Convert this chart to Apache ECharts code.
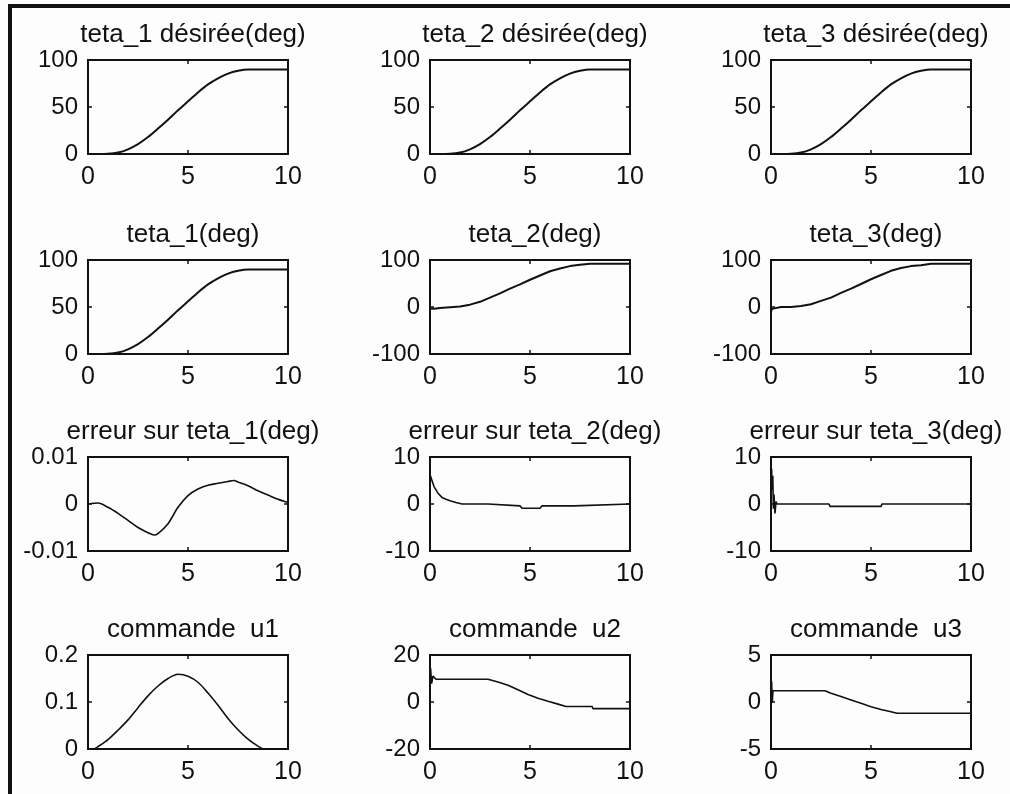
<!DOCTYPE html>
<html>
<head>
<meta charset="utf-8">
<script src="https://cdn.jsdelivr.net/npm/echarts@6/dist/echarts.min.js"></script>
<style>
html,body{margin:0;padding:0;background:#fff;}
#c{width:1010px;height:794px;}
</style>
</head>
<body>
<div id="c"></div>
<script>
// ---- data ----
const X_TICKS = [0, 5, 10];

const T_DES = [0,0.5,1,1.5,2,2.5,3,3.5,4,4.5,5,5.5,6,6.5,7,7.5,8,8.5,9,9.5,10];
const TETA1_DES = [0,0,0.2,1.5,5,10.5,18,27,36.5,46.5,56,65.5,74,80.5,85.5,88.5,90,90,90,90,90];
const TETA2_DES = [0,0,0.2,1.5,5,10.5,18,27,36.5,46.5,56,65.5,74,80.5,85.5,88.5,90,90,90,90,90];
const TETA3_DES = [0,0,0.2,1.5,5,10.5,18,27,36.5,46.5,56,65.5,74,80.5,85.5,88.5,90,90,90,90,90];

const T_TETA1 = [0,0.5,1,1.5,2,2.5,3,3.5,4,4.5,5,5.5,6,6.5,7,7.5,8,8.5,9,9.5,10];
const TETA1 = [0,0,0.2,1.5,5,10.5,18,27,36.5,46.5,56,65.5,74,80.5,85.5,88.5,90,90,90,90,90];

const T_TETA2 = [0,0.05,0.2,0.5,1,1.5,2,2.5,3,3.5,4,4.5,5,5.5,6,6.5,7,7.5,8,8.5,9,9.5,10];
const TETA2 = [-3,-6,-3.5,-2,-0.5,1,5,11,20,29,39,48,58,67,76,82,87,90,92,92,92,92,92];

const T_TETA3 = [0,0.05,0.15,0.5,1,1.5,2,2.5,3,3.5,4,4.5,5,5.5,6,6.5,7,7.5,8,8.5,9,9.5,10];
const TETA3 = [-10,-4,0,0,0,2,6,13,20,30,39,49,59,68,77,83,87,89,92,92,92,92,92];

const T_ERR1 = [0,0.5,1,1.5,2,2.5,3,3.3,3.5,4,4.5,5,5.5,6,6.5,7,7.3,7.5,8,8.5,9,9.5,10];
const ERR1 = [0,0.0002,-0.0007,-0.002,-0.0035,-0.005,-0.0061,-0.0066,-0.0063,-0.0042,-0.0007,0.0018,0.0032,0.004,0.0044,0.0048,0.005,0.0047,0.0039,0.0028,0.0019,0.001,0.0003];

const T_ERR2 = [0,0.02,0.1,0.2,0.4,0.6,0.8,1,1.3,1.6,2.9,2.95,4.5,4.6,5.5,5.6,7.2,7.25,10];
const ERR2 = [2,6,5,3.7,2.3,1.4,1,0.7,0.3,0,0,-0.4,-0.4,-0.9,-0.9,-0.4,-0.4,0,0];

const T_ERR3 = [0,0.03,0.06,0.09,0.12,0.15,0.2,0.25,0.3,2.9,2.95,5.5,5.55,10];
const ERR3 = [0,7.5,3,6,-1,2,-2,0.5,0,0,-0.5,-0.5,0,0];

const T_U1 = [0,0.3,0.5,1,1.5,2,2.5,3,3.5,4,4.5,5,5.5,6,6.5,7,7.5,8,8.5,8.8,9,10];
const U1 = [0,0,0.005,0.02,0.04,0.062,0.088,0.113,0.134,0.15,0.159,0.155,0.142,0.119,0.093,0.065,0.041,0.021,0.006,0,0,0];

const T_U2 = [0,0.03,0.08,0.15,0.3,2.9,3.4,3.9,4.4,4.9,5.4,5.9,6.4,6.8,8.1,8.15,10];
const U2 = [8,14.3,7.8,11,9.7,9.7,8.5,7.1,5.2,3.2,1.6,0.3,-0.9,-1.9,-1.9,-2.8,-2.8];

const T_U3 = [0,0.03,0.06,0.1,2.7,3,3.5,4,4.5,5,5.5,6,6.3,10];
const U3 = [0,2.2,-0.1,1.2,1.2,0.93,0.58,0.22,-0.14,-0.5,-0.8,-1.04,-1.2,-1.2];

const TITLES = [
  'teta_1 désirée(deg)','teta_2 désirée(deg)','teta_3 désirée(deg)',
  'teta_1(deg)','teta_2(deg)','teta_3(deg)',
  'erreur sur teta_1(deg)','erreur sur teta_2(deg)','erreur sur teta_3(deg)',
  'commande  u1','commande  u2','commande  u3'
];
const Y_TICKS = [
  [0,50,100],[0,50,100],[0,50,100],
  [0,50,100],[-100,0,100],[-100,0,100],
  [-0.01,0,0.01],[-10,0,10],[-10,0,10],
  [0,0.1,0.2],[-20,0,20],[-5,0,5]
];
const Y_LABELS = [
  ['0','50','100'],['0','50','100'],['0','50','100'],
  ['0','50','100'],['-100','0','100'],['-100','0','100'],
  ['-0.01','0','0.01'],['-10','0','10'],['-10','0','10'],
  ['0','0.1','0.2'],['-20','0','20'],['-5','0','5']
];
const SERIES = [
  [T_DES,TETA1_DES],[T_DES,TETA2_DES],[T_DES,TETA3_DES],
  [T_TETA1,TETA1],[T_TETA2,TETA2],[T_TETA3,TETA3],
  [T_ERR1,ERR1],[T_ERR2,ERR2],[T_ERR3,ERR3],
  [T_U1,U1],[T_U2,U2],[T_U3,U3]
];
const SMOOTH = [true,true,true,true,false,false,true,false,false,true,false,false];

// ---- layout ----
const COL_LEFT = [88, 430, 771];
const ROW_TOP = [60, 260, 457, 655];
const W = 200, H = 94;
const FONT = "'Liberation Sans', Arial, sans-serif";

const grids = [], xAxes = [], yAxes = [], series = [], titles = [];
for (let i = 0; i < 12; i++) {
  const r = Math.floor(i / 3), c = i % 3;
  grids.push({left: COL_LEFT[c], top: ROW_TOP[r], width: W, height: H,
    show: true, borderColor: '#111', borderWidth: 2, backgroundColor: 'transparent'});
  const yt = Y_TICKS[i], yl = Y_LABELS[i];
  const fmtY = v => { let k = yt.findIndex(t => Math.abs(t - v) < 1e-9); return k >= 0 ? yl[k] : ''; };
  const tick = {show: true, inside: true, length: 4, lineStyle: {color: '#111', width: 1.5}};
  const xCommon = {type: 'value', gridIndex: i, min: X_TICKS[0], max: X_TICKS[X_TICKS.length-1],
    interval: X_TICKS[1]-X_TICKS[0], splitLine: {show: false}, axisLine: {show: false, onZero: false},
    axisTick: tick};
  xAxes.push(Object.assign({}, xCommon, {position: 'bottom',
    axisLabel: {show: true, color: '#111', fontSize: 25, fontFamily: FONT, margin: 11}}));
  xAxes.push(Object.assign({}, xCommon, {position: 'top', axisLabel: {show: false}}));
  const yCommon = {type: 'value', gridIndex: i, min: yt[0], max: yt[yt.length-1],
    interval: yt[1]-yt[0], splitLine: {show: false}, axisLine: {show: false, onZero: false},
    axisTick: tick};
  yAxes.push(Object.assign({}, yCommon, {position: 'left',
    axisLabel: {show: true, color: '#111', fontSize: 24, fontFamily: FONT, margin: 10, formatter: fmtY}}));
  yAxes.push(Object.assign({}, yCommon, {position: 'right', axisLabel: {show: false}}));
  const [ts, vs] = SERIES[i];
  series.push({type: 'line', xAxisIndex: 2*i, yAxisIndex: 2*i, showSymbol: false,
    smooth: SMOOTH[i] ? 0.3 : false, clip: true,
    lineStyle: {color: '#111', width: r < 2 ? 2 : 1.6},
    data: ts.map((t, k) => [t, vs[k]])});
  titles.push({text: TITLES[i], left: COL_LEFT[c] + W/2, top: ROW_TOP[r] - 43, textAlign: 'center',
    textStyle: {fontSize: 26, fontWeight: 'normal', color: '#111', fontFamily: FONT}});
}

const chart = echarts.init(document.getElementById('c'), null, {renderer: 'canvas'});
chart.setOption({
  animation: false,
  backgroundColor: '#fdfdfd',
  title: titles,
  grid: grids,
  xAxis: xAxes,
  yAxis: yAxes,
  series: series,
  graphic: [
    {type: 'line', shape: {x1: 10, y1: 6, x2: 1010, y2: 6}, style: {stroke: '#111', lineWidth: 4}},
    {type: 'line', shape: {x1: 10, y1: 4, x2: 10, y2: 794}, style: {stroke: '#111', lineWidth: 4}}
  ]
});
</script>
</body>
</html>
